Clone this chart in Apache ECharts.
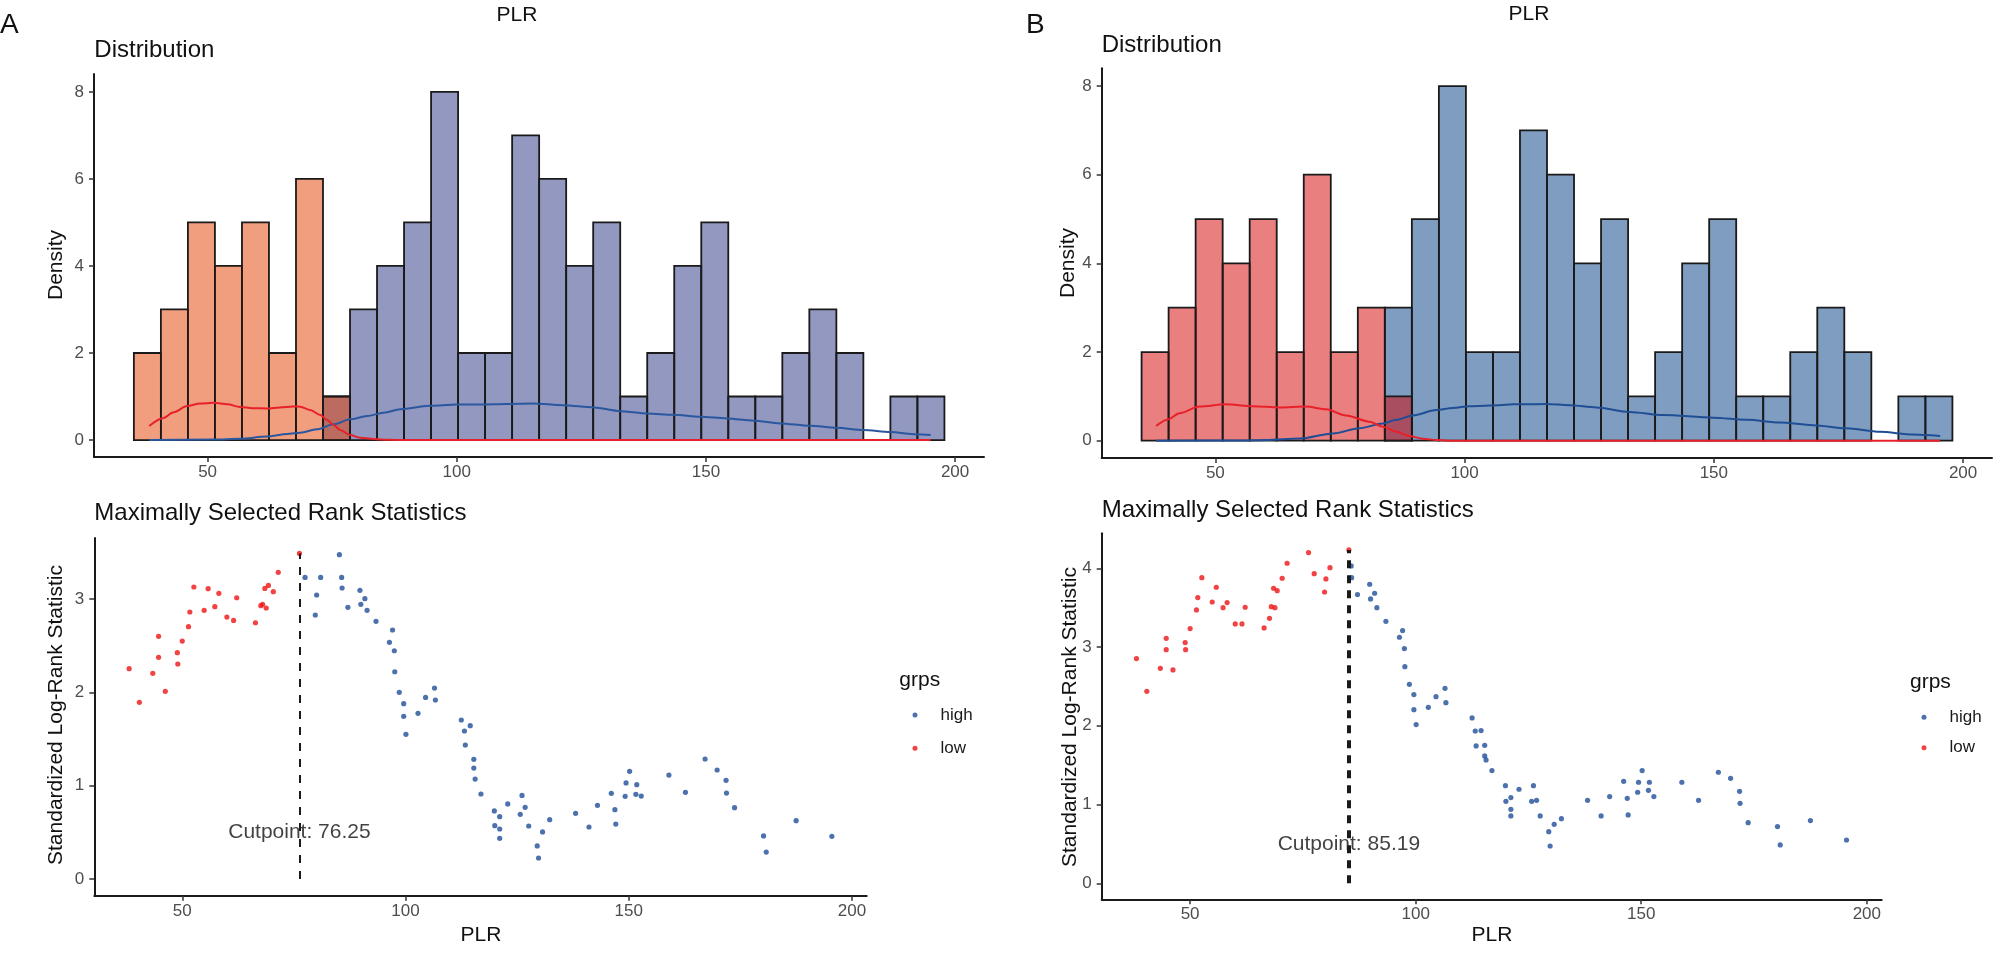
<!DOCTYPE html>
<html><head><meta charset="utf-8">
<script src="https://cdn.jsdelivr.net/npm/echarts@6/dist/echarts.min.js"></script>
<style>html,body{margin:0;padding:0;background:#fff}#c{width:2008px;height:957px}</style>
</head><body><div id="c"></div><script>
// ---------- data ----------
const binStart = 35.2;
const binWidth = 5.422;
const histLowA  = [2,3,5,4,5,2,6,1,0,0,0,0,0,0,0,0,0,0,0,0,0,0,0,0,0,0,0,0,0,0];
const histHighA = [0,0,0,0,0,0,0,1,3,4,5,8,2,2,7,6,4,5,1,2,4,5,1,1,2,3,2,0,1,1];
const histLowB  = [2,3,5,4,5,2,6,2,3,1,0,0,0,0,0,0,0,0,0,0,0,0,0,0,0,0,0,0,0,0];
const histHighB = [0,0,0,0,0,0,0,0,0,3,5,8,2,2,7,6,4,5,1,2,4,5,1,1,2,3,2,0,1,1];

const densLowA = [[38.3,0.32],[41,0.5],[43.2,0.64],[45.9,0.78],[48.5,0.84],[51.2,0.855],[54,0.82],[56.5,0.76],[59,0.73],[61.9,0.725],[64.5,0.75],[67.2,0.77],[68.6,0.765],[70.6,0.69],[72.6,0.574],[74,0.459],[75.3,0.344],[76.6,0.23],[78.6,0.115],[80.6,0.054],[83.3,0.023],[86,0.005],[90,0],[195.1,0]];
const densHighA = [[38.3,0],[51.2,0.01],[56.5,0.03],[61.9,0.08],[66,0.14],[68.6,0.168],[71.9,0.245],[75.3,0.36],[78.6,0.475],[82,0.551],[85.3,0.628],[88.7,0.705],[94.5,0.785],[100,0.815],[104.7,0.817],[110,0.83],[115.4,0.84],[121.4,0.8],[127.5,0.748],[132.8,0.664],[138.2,0.61],[143.5,0.58],[148.9,0.534],[154.2,0.496],[159.6,0.443],[164.9,0.382],[170.9,0.328],[176.3,0.282],[181.6,0.229],[187,0.183],[192.3,0.13],[195.1,0.115]];
const densLowB = [[38.1,0.33],[40.5,0.48],[42.8,0.62],[46.8,0.77],[52.1,0.82],[57.5,0.78],[62.9,0.75],[68.2,0.77],[72.2,0.71],[76.2,0.57],[80.9,0.43],[83.6,0.316],[86.3,0.203],[88.9,0.106],[91.6,0.045],[94.3,0.015],[98,0],[195.4,0]];
const densHighB = [[38.1,0],[55,0.005],[60.2,0.015],[66.9,0.05],[73.6,0.165],[78.9,0.28],[83.6,0.39],[86.3,0.47],[89.6,0.57],[94.3,0.69],[97.6,0.74],[101,0.78],[107,0.8],[109.7,0.82],[116.4,0.83],[121.1,0.8],[126.4,0.75],[133.1,0.65],[139.8,0.58],[149.9,0.52],[156.6,0.47],[163.3,0.41],[169.9,0.35],[176.6,0.28],[183.3,0.2],[190,0.14],[195.4,0.105]];

const plr = [38.1,40.4,43.4,44.7,44.7,46.2,48.9,49.0,50.0,51.4,51.7,52.6,54.9,55.8,57.3,58.2,60.0,61.5,62.2,66.4,67.6,68.0,68.5,68.8,69.3,70.4,71.5,76.25,
 77.5,79.8,80.1,81.0,85.19,85.7,85.8,87.1,89.8,90.0,90.9,91.4,93.4,
 96.4,97.1,97.5,97.6,98.6,99.6,99.6,100.1,102.8,104.5,106.5,106.7,
 112.5,113.2,113.4,114.5,115.3,115.3,115.6,116.9,
 119.9,120.0,121.1,121.1,121.1,
 122.9,125.7,126.1,126.8,127.6,129.5,129.8,130.7,132.3,138.1,141.1,143.0,146.1,146.9,147.1,149.2,149.4,150.2,151.6,151.8,152.8,159.0,162.7,167.1,169.8,171.8,171.9,173.7,180.2,180.8,187.5,195.5];
const statA = [2.254,1.893,2.204,2.600,2.375,2.011,2.425,2.304,2.550,2.704,2.861,3.129,2.879,3.111,2.918,3.061,2.807,2.771,3.014,2.746,2.929,2.943,3.114,2.904,3.146,3.079,3.286,3.489,
 3.232,2.829,3.043,3.232,3.475,3.232,3.118,2.911,3.093,2.943,3.004,2.879,2.761,
 2.536,2.668,2.446,2.221,2.000,1.879,1.743,1.550,1.775,1.946,2.046,1.918,
 1.704,1.586,1.436,1.643,1.282,1.189,1.071,0.911,
 0.729,0.571,0.668,0.536,0.436,
 0.804,0.693,0.896,0.768,0.568,0.354,0.225,0.504,0.636,0.704,0.557,0.789,0.918,0.743,0.589,0.886,1.029,1.154,0.907,1.011,0.889,1.114,0.929,1.286,1.168,1.057,0.921,0.764,0.461,0.289,0.625,0.457];
const statB = [2.853,2.438,2.730,3.111,2.967,2.709,3.056,2.967,3.234,3.471,3.628,3.881,3.572,3.759,3.500,3.564,3.293,3.293,3.505,3.242,3.365,3.513,3.746,3.500,3.716,3.873,4.064,4.199,
 3.932,3.699,3.865,4.008,4.233,4.030,3.881,3.666,3.797,3.611,3.683,3.500,3.327,
 3.124,3.209,2.980,2.751,2.527,2.396,2.205,2.015,2.235,2.370,2.476,2.294,
 2.100,1.934,1.744,1.939,1.752,1.617,1.566,1.431,
 1.240,1.041,1.088,0.940,0.855,
 1.194,1.041,1.240,1.054,0.855,0.656,0.474,0.749,0.821,1.054,0.855,1.101,1.295,1.079,0.868,1.156,1.283,1.431,1.181,1.283,1.101,1.283,1.054,1.410,1.333,1.168,1.016,0.770,0.720,0.487,0.796,0.550];
const cutA = 76.25;
const cutB = 85.19;
const cutLabelStat = 0.5;
const xTicks = [50,100,150,200];
const yTicksHist = [0,2,4,6,8];
const yTicksA = [0,1,2,3];
const yTicksB = [0,1,2,3,4];

// ---------- styling ----------
const FONT = "'Liberation Sans', Arial, Helvetica, sans-serif";
const RED = '#ee1414', BLUE = '#1f4e99';

function xAx(gi, min, max) {
  return {type:'value', gridIndex:gi, min, max, splitLine:{show:false},
    axisLine:{show:true, onZero:false, lineStyle:{color:'#1a1a1a', width:2}},
    axisTick:{show:true, length:5, customValues:xTicks, lineStyle:{color:'#333', width:1.5}},
    axisLabel:{customValues:xTicks, fontSize:17, color:'#4d4d4d', margin:7, fontFamily:FONT}};
}
function yAx(gi, min, max, ticks) {
  return {type:'value', gridIndex:gi, min, max, splitLine:{show:false},
    axisLine:{show:true, onZero:false, lineStyle:{color:'#1a1a1a', width:2}},
    axisTick:{show:true, length:5, customValues:ticks, lineStyle:{color:'#333', width:1.5}},
    axisLabel:{customValues:ticks, fontSize:17, color:'#4d4d4d', margin:10, fontFamily:FONT}};
}
function histSeries(name, counts, gi, fill) {
  const data = [];
  counts.forEach((c, i) => { if (c > 0) data.push([binStart + i*binWidth, binStart + (i+1)*binWidth, c]); });
  return {type:'custom', name, xAxisIndex:gi, yAxisIndex:gi, data, encode:{x:[0,1], y:2},
    renderItem(params, api) {
      const tl = api.coord([api.value(0), api.value(2)]);
      const br = api.coord([api.value(1), 0]);
      return {type:'rect', shape:{x:tl[0], y:tl[1], width:br[0]-tl[0], height:br[1]-tl[1]},
        style:{fill, stroke:'#1a1a1a', lineWidth:1.8}};
    }};
}
function densSeries(name, data, gi, color) {
  return {type:'line', name, xAxisIndex:gi, yAxisIndex:gi, data, showSymbol:false, symbol:'none',
    smooth:0.3, smoothMonotone:'x', lineStyle:{color, width:2}, z:5};
}
function scatterSeries(name, stat, gi, cut, isLow, color) {
  const data = plr.map((x, i) => [x, stat[i]]).filter(d => isLow ? d[0] <= cut : d[0] > cut);
  return {type:'scatter', name, xAxisIndex:gi, yAxisIndex:gi, data, symbolSize:5.2,
    itemStyle:{color}, z:4};
}
function cutSeries(gi, cut, stat, lw, dash) {
  const top = Math.max(...stat);
  return {type:'scatter', name:'cut'+gi, xAxisIndex:gi, yAxisIndex:gi, data:[[cut, cutLabelStat]], symbolSize:0, z:6,
    label:{show:true, position:'inside', formatter:'Cutpoint: ' + cut, fontSize:21, color:'#111', fontFamily:FONT},
    markLine:{silent:true, symbol:['none','none'], label:{show:false}, z:7,
      lineStyle:{color:'#1a1a1a', width:lw, type:dash},
      data:[[{coord:[cut, 0]}, {coord:[cut, top]}]]}};
}
function txt(text, x, y, size, opts) {
  opts = opts || {};
  return {type:'text', x, y, rotation: opts.rot || 0, z:100,
    style:{text, fontSize:size, fontFamily:FONT, fill: opts.fill || '#111', align: opts.align || 'left', verticalAlign:'middle'}};
}

const chart = echarts.init(document.getElementById('c'), null, {renderer:'canvas'});
chart.setOption({
  animation:false,
  backgroundColor:'#ffffff',
  grid:[
    {left:94, top:74, width:890, height:383},
    {left:1101.7, top:68.3, width:890.3, height:389.7},
    {left:94.3, top:538, width:772.4, height:357.7},
    {left:1101.7, top:533.3, width:780, height:366}
  ],
  xAxis:[xAx(0, 27.2, 205.8), xAx(1, 27.2, 205.8), xAx(2, 30.3, 203.3), xAx(3, 30.4, 203.3)],
  yAxis:[yAx(0, -0.39, 8.41, yTicksHist), yAx(1, -0.39, 8.40, yTicksHist), yAx(2, -0.179, 3.654, yTicksA), yAx(3, -0.203, 4.444, yTicksB)],
  legend:[
    {data:['high','low'], orient:'vertical', left:912.5, top:705, padding:0, itemWidth:5, itemHeight:5, itemGap:13.3, icon:'circle',
      textStyle:{fontSize:17, color:'#1a1a1a', fontFamily:FONT, lineHeight:20, padding:[0,0,0,18]}, selectedMode:false},
    {data:['high','low'], orient:'vertical', left:1921.5, top:707.3, padding:0, itemWidth:5, itemHeight:5, itemGap:10.4, icon:'circle',
      textStyle:{fontSize:17, color:'#1a1a1a', fontFamily:FONT, lineHeight:20, padding:[0,0,0,18]}, selectedMode:false}
  ],
  graphic:[
    txt('A', 0, 25, 28),
    txt('B', 1026, 25, 28),
    txt('PLR', 517, 15, 21, {align:'center'}),
    txt('PLR', 1529, 14, 21, {align:'center'}),
    txt('Distribution', 94.3, 50, 24),
    txt('Distribution', 1101.7, 45, 24),
    txt('Density', 56.7, 265, 21, {align:'center', rot:Math.PI/2}),
    txt('Density', 1068.3, 263, 21, {align:'center', rot:Math.PI/2}),
    txt('Maximally Selected Rank Statistics', 94.3, 513, 24),
    txt('Maximally Selected Rank Statistics', 1101.7, 510, 24),
    txt('Standardized Log-Rank Statistic', 56.7, 715, 21, {align:'center', rot:Math.PI/2}),
    txt('Standardized Log-Rank Statistic', 1070, 717, 21, {align:'center', rot:Math.PI/2}),
    txt('PLR', 481, 935, 21, {align:'center'}),
    txt('PLR', 1492, 935, 21, {align:'center'}),
    txt('grps', 899.3, 680, 21),
    txt('grps', 1910, 682, 21)
  ],
  series:[
    histSeries('histHighA', histHighA, 0, 'rgba(37,49,129,0.5)'),
    histSeries('histLowA', histLowA, 0, 'rgba(227,62,0,0.5)'),
    densSeries('densHighA', densHighA, 0, '#2a579e'),
    densSeries('densLowA', densLowA, 0, '#e8202a'),
    histSeries('histHighB', histHighB, 1, 'rgba(0,60,130,0.5)'),
    histSeries('histLowB', histLowB, 1, 'rgba(211,0,0,0.5)'),
    densSeries('densHighB', densHighB, 1, '#1f4e94'),
    densSeries('densLowB', densLowB, 1, '#e8202a'),
    scatterSeries('high', statA, 2, cutA, false, BLUE),
    scatterSeries('low', statA, 2, cutA, true, RED),
    cutSeries(2, cutA, statA, 2, [8,8]),
    scatterSeries('high', statB, 3, cutB, false, BLUE),
    scatterSeries('low', statB, 3, cutB, true, RED),
    cutSeries(3, cutB, statB, 4, [8,7])
  ]
});
</script></body></html>
